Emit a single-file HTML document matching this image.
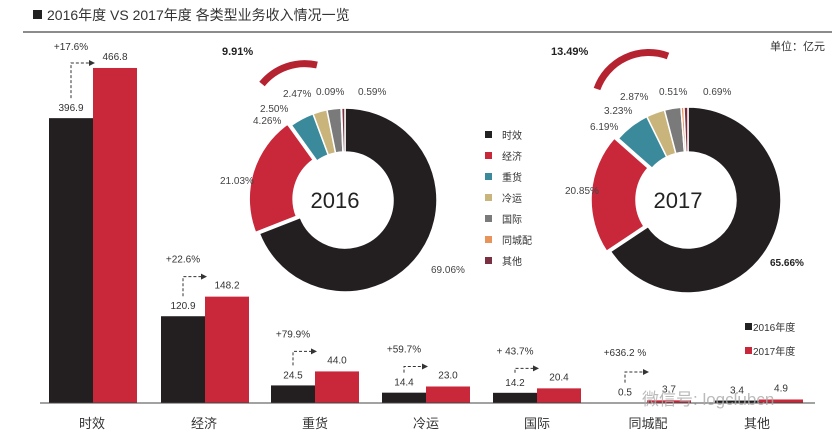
<!DOCTYPE html>
<html><head><meta charset="utf-8"><style>
body{margin:0;background:#fff;}
svg{display:block;font-family:"Liberation Sans","Noto Sans CJK SC",sans-serif;}
</style></head><body>
<svg id="s" width="832" height="439" viewBox="0 0 832 439" xmlns="http://www.w3.org/2000/svg">
<rect width="832" height="439" fill="#fff"/>
<rect x="33" y="10" width="9" height="9" fill="#222"/>
<text x="47" y="20" font-size="14" fill="#333">2016年度 VS 2017年度 各类型业务收入情况一览</text>
<line x1="23" y1="32" x2="832" y2="32" stroke="#666" stroke-width="1.5"/>
<text x="825" y="50" font-size="11" fill="#333" text-anchor="end">单位：亿元</text>
<g id="bars"></g>
<g id="donuts"></g>
<line x1="40" y1="403" x2="815" y2="403" stroke="#444" stroke-width="1"/>
<g font-size="13" fill="#333" text-anchor="middle">
<text x="92" y="428">时效</text><text x="204" y="428">经济</text><text x="315" y="428">重货</text>
<text x="426" y="428">冷运</text><text x="537" y="428">国际</text><text x="648" y="428">同城配</text><text x="757" y="428">其他</text>
</g>
<g font-size="10" fill="#333">
<rect x="745" y="323" width="7" height="7" fill="#222"/><text x="753" y="331">2016年度</text>
<rect x="745" y="347" width="7" height="7" fill="#c8283a"/><text x="753" y="355">2017年度</text>
</g>
<g font-size="10" fill="#333">
<rect x="485" y="131" width="7" height="7" fill="#222"/><text x="502" y="139">时效</text>
<rect x="485" y="152" width="7" height="7" fill="#c8283a"/><text x="502" y="160">经济</text>
<rect x="485" y="173" width="7" height="7" fill="#3a8a9c"/><text x="502" y="181">重货</text>
<rect x="485" y="194" width="7" height="7" fill="#c9b47c"/><text x="502" y="202">冷运</text>
<rect x="485" y="215" width="7" height="7" fill="#7a7a7a"/><text x="502" y="223">国际</text>
<rect x="485" y="236" width="7" height="7" fill="#e8935a"/><text x="502" y="244">同城配</text>
<rect x="485" y="257" width="7" height="7" fill="#7a3040"/><text x="502" y="265">其他</text>
</g>
<g font-size="10" fill="#444">
<text x="222" y="55" font-weight="bold" font-size="11" fill="#222">9.91%</text>
<text x="283" y="97">2.47%</text><text x="316" y="95">0.09%</text><text x="358" y="95">0.59%</text>
<text x="260" y="112">2.50%</text><text x="253" y="124">4.26%</text>
<text x="220" y="184">21.03%</text><text x="431" y="273">69.06%</text>
<text x="551" y="55" font-weight="bold" font-size="11" fill="#222">13.49%</text>
<text x="620" y="100">2.87%</text><text x="659" y="95">0.51%</text><text x="703" y="95">0.69%</text>
<text x="604" y="114">3.23%</text><text x="590" y="130">6.19%</text>
<text x="565" y="194">20.85%</text><text x="770" y="266" font-weight="bold" fill="#222">65.66%</text>
</g>
<path d="M262 84 A55 55 0 0 1 317 65" fill="none" stroke="#b52230" stroke-width="7"/>
<path d="M597 89 A55 55 0 0 1 668 56" fill="none" stroke="#b52230" stroke-width="7"/>
<g font-size="10" fill="#333" text-anchor="middle" id="lbl"></g>
<g stroke="#333" stroke-dasharray="3,2" fill="none" id="arr"></g>
<text x="642" y="405" font-size="17" fill="#aaa" opacity="0.8">微信号: logclubcn</text>
</svg>
<script>
const NS="http://www.w3.org/2000/svg";
function el(p,t,a,txt){const e=document.createElementNS(NS,t);for(const k in a)e.setAttribute(k,a[k]);if(txt!=null)e.textContent=txt;document.getElementById(p).appendChild(e);return e;}
const k=0.7177,base=403;
const d=[[49,396.9,466.8,"+17.6%"],[161,120.9,148.2,"+22.6%"],[271,24.5,44.0,"+79.9%"],[382,14.4,23.0,"+59.7%"],[493,14.2,20.4,"+ 43.7%"],[603,0.5,3.7,"+636.2 %"],[715,3.4,4.9,""]];
d.forEach(([x,a,b,p],i)=>{
 const ya=base-a*k,yb=base-b*k;
 el('bars','rect',{x:x,y:ya,width:44,height:a*k,fill:'#231f20'});
 el('bars','rect',{x:x+44,y:yb,width:44,height:b*k,fill:'#c8283a'});
 el('lbl','text',{x:x+22,y:ya-7},a.toFixed(1));
 el('lbl','text',{x:x+66,y:yb-8},b.toFixed(1));
 if(p){let ay=yb-20,ty=yb-34;
  if(i==0){ay=63;ty=50;}
  if(i==5){ay=372;ty=356;}
  el('lbl','text',{x:x+22,y:ty},p);
  el('arr','path',{d:`M${x+22} ${ya-20} V${ay} H${x+40}`});
  el('bars','path',{d:`M${x+40} ${ay-3} L${x+46} ${ay} L${x+40} ${ay+3}Z`,fill:'#333'});}
});
const cols=['#231f20','#c8283a','#3a8a9c','#c9b47c','#7a7a7a','#e8935a','#7a3040'];
function donut(cx,cy,R,r,vals,yr){
 let a0=0;const tot=vals.reduce((x,y)=>x+y,0);
 vals.forEach((v,i)=>{const a1=a0+v/tot*2*Math.PI;
  let ox=0,oy=0;if(i==1){const m=(a0+a1)/2;ox=Math.sin(m)*4;oy=-Math.cos(m)*4;}
  const P=(rad,a)=>[cx+ox+rad*Math.sin(a),cy+oy-rad*Math.cos(a)];
  const [x1,y1]=P(R,a0),[x2,y2]=P(R,a1),[x3,y3]=P(r,a1),[x4,y4]=P(r,a0);
  const lg=(a1-a0)>Math.PI?1:0;
  el('donuts','path',{d:`M${x1} ${y1}A${R} ${R} 0 ${lg} 1 ${x2} ${y2}L${x3} ${y3}A${r} ${r} 0 ${lg} 0 ${x4} ${y4}Z`,fill:cols[i],stroke:'#fff','stroke-width':1.5});
  a0=a1;});
 el('donuts','text',{x:cx-10,y:cy+8,'font-size':22,fill:'#222','text-anchor':'middle'},yr);
}
donut(345,200,92,48,[69.06,21.03,4.26,2.50,2.47,0.09,0.59],'2016');
donut(688,200,93,48,[65.66,20.85,6.19,3.23,2.87,0.51,0.69],'2017');
</script>
</body></html>
